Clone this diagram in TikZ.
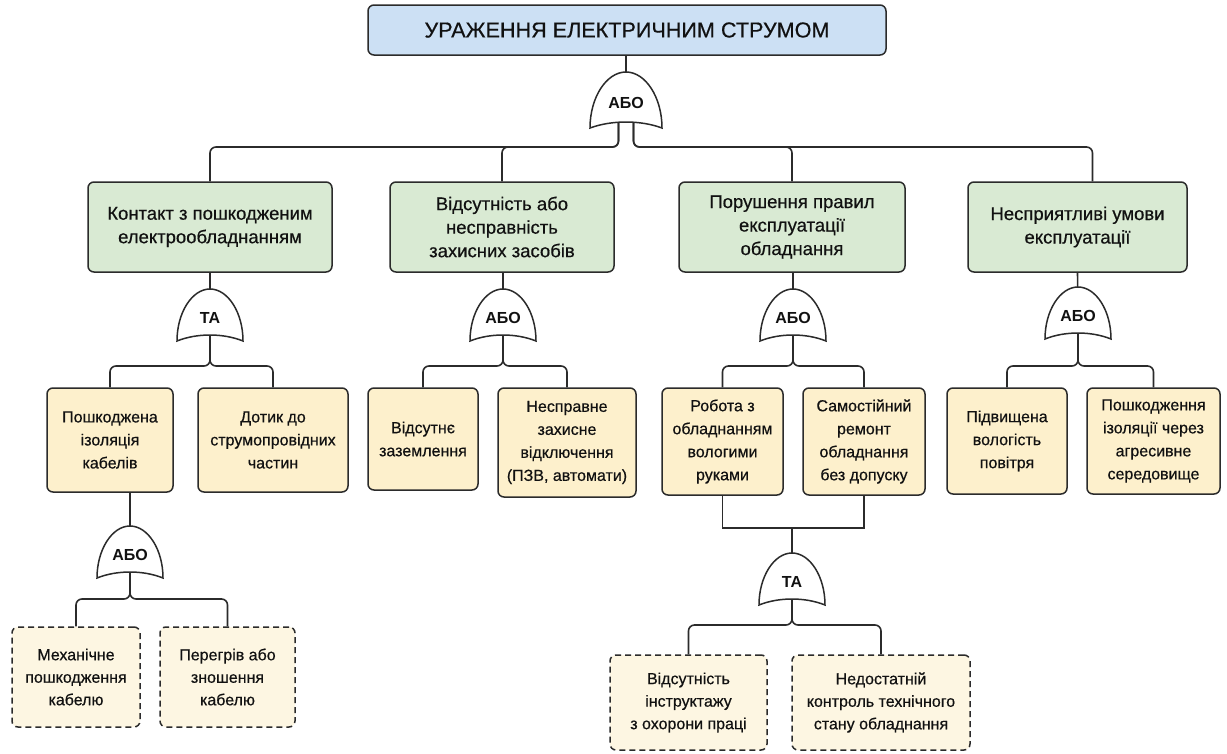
\documentclass[tikz,border=0pt]{standalone}
\usepackage{fontspec}
\setmainfont{Liberation Sans}
\newfontfamily\bodyfont{Liberation Sans}[FakeBold=0.5]
\usetikzlibrary{calc}
\pgfdeclarelayer{bg}
\pgfsetlayers{bg,main}

\definecolor{topfill}{HTML}{CCE0F4}
\definecolor{midfill}{HTML}{D9EAD3}
\definecolor{leaffill}{HTML}{FDF0CC}
\definecolor{basefill}{HTML}{FDF6E2}
\definecolor{edge}{HTML}{2B2B2B}
\definecolor{ink}{HTML}{111111}

\tikzset{
  box/.style={draw=edge, line width=1.5pt, rounded corners=6pt, align=center,
    inner sep=2pt, text=ink},
  topbox/.style={box, fill=topfill, font=\bodyfont\fontsize{21.6}{25}\selectfont},
  midbox/.style={box, fill=midfill, font=\bodyfont\fontsize{18.5}{23.5}\selectfont},
  leafbox/.style={box, fill=leaffill, font=\bodyfont\fontsize{16}{23}\selectfont},
  basebox/.style={box, fill=basefill, dash pattern=on 6pt off 4pt,
    font=\bodyfont\fontsize{16}{22.5}\selectfont},
  conn/.style={draw=edge, line width=1.6pt, rounded corners=6pt},
  joinline/.style={draw=edge, line width=1.6pt},
  gatelabel/.style={inner sep=0pt, text=ink,
    font=\bfseries\fontsize{16}{18}\selectfont},
  gateshape/.style={draw=edge, line width=1.5pt, fill=white},
}

% gate symbol: name, x, y, width, height, label
\newcommand\gate[6]{%
  \path[gateshape]
    (#2-#4/2, #3+#5/2)
    .. controls (#2-#4/2, #3-#5*0.05) and (#2-#4*0.27, #3-#5/2) .. (#2, #3-#5/2)
    .. controls (#2+#4*0.27, #3-#5/2) and (#2+#4/2, #3-#5*0.05) .. (#2+#4/2, #3+#5/2)
    .. controls (#2+#4*0.2, #3+#5/2-8) and (#2-#4*0.2, #3+#5/2-8) .. cycle;
  \node[gatelabel, minimum width=#4pt, minimum height=#5pt, text depth=0pt]
    (#1) at (#2,#3+3) {#6};
}

\begin{document}
\begin{tikzpicture}[x=1pt, y=-1pt]
\useasboundingbox (0,0) rectangle (1227,753);
\begin{pgfonlayer}{bg}
  \fill[white] (0,0) rectangle (1227,753);
\end{pgfonlayer}

% top event
\node[topbox, minimum width=518pt, minimum height=50pt] (top) at (627,30)
  {УРАЖЕННЯ ЕЛЕКТРИЧНИМ СТРУМОМ};

% intermediate events
\node[midbox, minimum width=244pt, minimum height=90pt] (m1) at (210,227)
  {Контакт з пошкодженим\\електрообладнанням};
\node[midbox, minimum width=224pt, minimum height=90pt] (m2) at (502,227)
  {Відсутність або\\несправність\\захисних засобів};
\node[midbox, minimum width=226pt, minimum height=90pt] (m3) at (792,227)
  {Порушення правил\\експлуатації\\обладнання};
\node[midbox, minimum width=219pt, minimum height=90pt] (m4) at (1077.5,227)
  {Несприятливі умови\\експлуатації};

% second-level events
\node[leafbox, minimum width=126pt, minimum height=104pt] (a) at (110,440)
  {Пошкоджена\\ізоляція\\кабелів};
\node[leafbox, minimum width=150pt, minimum height=104pt] (b) at (273,440)
  {Дотик до\\струмопровідних\\частин};
\node[leafbox, minimum width=110pt, minimum height=102pt] (c) at (423,439)
  {Відсутнє\\заземлення};
\node[leafbox, minimum width=138pt, minimum height=109pt] (d) at (567,442.5)
  {Несправне\\захисне\\відключення\\(ПЗВ, автомати)};
\node[leafbox, minimum width=121pt, minimum height=107pt] (e) at (722.5,441.5)
  {Робота з\\обладнанням\\вологими\\руками};
\node[leafbox, minimum width=122pt, minimum height=107pt] (f) at (864,441.5)
  {Самостійний\\ремонт\\обладнання\\без допуску};
\node[leafbox, minimum width=120pt, minimum height=106pt] (g) at (1007,441)
  {Підвищена\\вологість\\повітря};
\node[leafbox, minimum width=133pt, minimum height=106pt] (h) at (1153.5,441)
  {Пошкодження\\ізоляції через\\агресивне\\середовище};

% basic events
\node[basebox, minimum width=128pt, minimum height=100pt] (l1) at (76,677)
  {Механічне\\пошкодження\\кабелю};
\node[basebox, minimum width=135pt, minimum height=100pt] (l2) at (227.5,677)
  {Перегрів або\\зношення\\кабелю};
\node[basebox, minimum width=157pt, minimum height=95pt] (r1) at (688.5,702.5)
  {Відсутність\\інструктажу\\з охорони праці};
\node[basebox, minimum width=178pt, minimum height=95pt] (r2) at (881,702.5)
  {Недостатній\\контроль технічного\\стану обладнання};

% gates
\gate{g0}{626}{100}{72}{56}{АБО}
\gate{g1}{210}{315}{66}{52}{ТА}
\gate{g2}{503}{315}{66}{52}{АБО}
\gate{g3}{793}{315}{66}{52}{АБО}
\gate{g4}{1078}{313}{66}{52}{АБО}
\gate{g5}{130}{552}{66}{52}{АБО}
\gate{g6}{792}{579}{66}{52}{ТА}

% bus levels
\coordinate (b0) at (626,147);
\coordinate (b1) at (210,366);
\coordinate (b2) at (503,366);
\coordinate (b3) at (793,366);
\coordinate (b4) at (1078,366);
\coordinate (b5) at (130,599);
\coordinate (b6) at (792,625);
\coordinate (j6) at (792,528);
\coordinate (g0l) at ([xshift=-7.5pt]g0.center);
\coordinate (g0r) at ([xshift=7.5pt]g0.center);

\begin{pgfonlayer}{bg}
  \draw[conn] (top.south -| g0) -- (g0.center);
  \draw[conn] (g0l) -- (g0l |- b0) -| (m1.north);
  \draw[conn] (g0l) -- (g0l |- b0) -| (m2.north);
  \draw[conn] (g0r) -- (g0r |- b0) -| (m3.north);
  \draw[conn] (g0r) -- (g0r |- b0) -| ([xshift=15pt]m4.north);

  \draw[conn] (m1.south) -- (g1.center);
  \draw[conn] (m2.south -| g2) -- (g2.center);
  \draw[conn] (m3.south -| g3) -- (g3.center);
  \draw[conn] (m4.south) -- (g4.center);

  \draw[conn] (g1.center) -- (b1) -| (a.north);
  \draw[conn] (g1.center) -- (b1) -| (b.north);
  \draw[conn] (g2.center) -- (b2) -| (c.north);
  \draw[conn] (g2.center) -- (b2) -| (d.north);
  \draw[conn] (g3.center) -- (b3) -| (e.north);
  \draw[conn] (g3.center) -- (b3) -| (f.north);
  \draw[conn] (g4.center) -- (b4) -| (g.north);
  \draw[conn] (g4.center) -- (b4) -| (h.north);

  \draw[conn] (a.south -| g5) -- (g5.center);
  \draw[conn] (g5.center) -- (b5) -| (l1.north);
  \draw[conn] (g5.center) -- (b5) -| (l2.north);

  \draw[joinline] (e.south) |- (j6);
  \draw[joinline] (f.south) |- (j6);
  \draw[joinline] (j6) -- (g6.center);
  \draw[conn] (g6.center) -- (b6) -| (r1.north);
  \draw[conn] (g6.center) -- (b6) -| (r2.north);
\end{pgfonlayer}
\end{tikzpicture}
\end{document}
